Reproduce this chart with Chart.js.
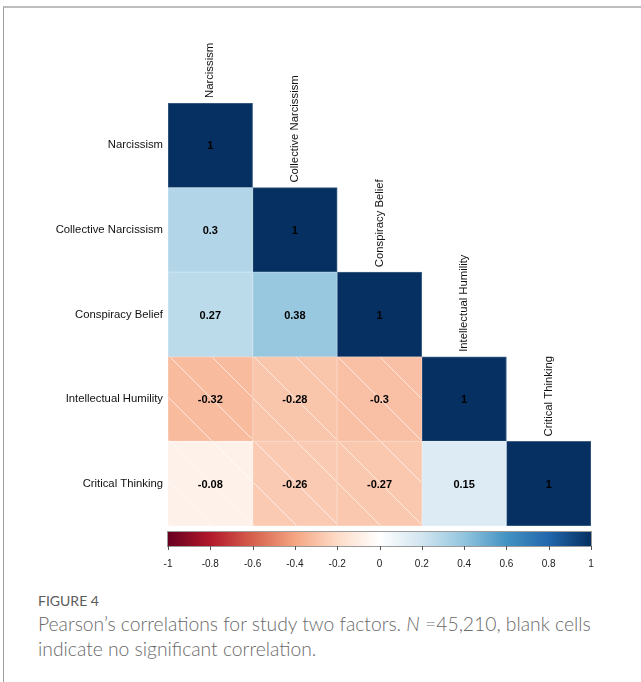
<!DOCTYPE html>
<html>
<head>
<meta charset="utf-8">
<script src="https://cdn.jsdelivr.net/npm/chart.js@4.4.1/dist/chart.umd.min.js"></script>
<style>
  body { margin: 0; background: #fff; width: 641px; height: 682px; overflow: hidden; position: relative; }
  #frame { position: absolute; left: 3px; top: 6px; right: -5px; bottom: -5px; border-top: 2px solid #bdbdbd; border-left: 1px solid #9e9e9e; }
  #wrap { position: absolute; left: 0; top: 0; width: 641px; height: 590px; }
  .fig { position: absolute; left: 38px; top: 592px; font-family: Lato, "Open Sans", sans-serif; font-size: 14px; color: #5c5c5c; }
  .cap { position: absolute; left: 38px; top: 611px; width: 570px; font-family: Lato, "Open Sans", sans-serif; font-size: 19.3px; line-height: 25px; color: #6a6a6a; font-weight: 300; }
</style>
</head>
<body>
<div id="frame"></div>
<div id="wrap"><canvas id="myChart" width="641" height="590"></canvas></div>
<div class="fig">FIGURE 4</div>
<div class="cap">Pearson’s correlations for study two factors. <i>N</i> =45,210, blank cells indicate no significant correlation.</div>
<script>
// variables (rows and columns share the same order)
var factors = ['Narcissism', 'Collective Narcissism', 'Conspiracy Belief', 'Intellectual Humility', 'Critical Thinking'];

// one array per column, values top to bottom (null = upper triangle, not drawn)
var colNarcissism = [1, 0.3, 0.27, -0.32, -0.08];
var colCollective = [null, 1, 0.38, -0.28, -0.26];
var colConspiracy = [null, null, 1, -0.3, -0.27];
var colHumility = [null, null, null, 1, 0.15];
var colCritical = [null, null, null, null, 1];
var columns = [colNarcissism, colCollective, colConspiracy, colHumility, colCritical];

// colour bar tick labels
var cbTicks = [-1, -0.8, -0.6, -0.4, -0.2, 0, 0.2, 0.4, 0.6, 0.8, 1];

// RdBu palette, -1 .. 1
var rdbu = ['#67001F', '#B2182B', '#D6604D', '#F4A582', '#FDDBC7', '#FFFFFF', '#D1E5F0', '#92C5DE', '#4393C3', '#2166AC', '#053061'];

var labelFont = '"Liberation Sans", Arial, sans-serif';

function hexRgb(h) {
  return [parseInt(h.substr(1, 2), 16), parseInt(h.substr(3, 2), 16), parseInt(h.substr(5, 2), 16)];
}
function colorFor(v) {
  var p = (v + 1) / 2 * (rdbu.length - 1);
  var i = Math.min(Math.floor(p), rdbu.length - 2);
  var t = p - i;
  var a = hexRgb(rdbu[i]), b = hexRgb(rdbu[i + 1]);
  return [0, 1, 2].map(function(k) { return Math.round(a[k] + (b[k] - a[k]) * t); });
}
function rgbStr(c) { return 'rgb(' + c[0] + ',' + c[1] + ',' + c[2] + ')'; }
function lighten(c, f) { return rgbStr(c.map(function(x) { return Math.round(x + (255 - x) * f); })); }

// negative cells get white diagonal hatching
function hatch(color) {
  var s = 42;
  var tile = document.createElement('canvas');
  tile.width = s; tile.height = s;
  var g = tile.getContext('2d');
  g.fillStyle = color;
  g.fillRect(0, 0, s, s);
  g.strokeStyle = 'rgba(255,255,255,0.7)';
  g.lineWidth = 0.9;
  g.beginPath();
  g.moveTo(-2, -2);
  g.lineTo(s + 2, s + 2);
  g.stroke();
  var pat = g.createPattern(tile, 'repeat');
  pat.setTransform(new DOMMatrix([1, 0, 0, 1, 23, 0]));
  return pat;
}

var datasets = columns.map(function(col, j) {
  return {
    label: factors[j],
    data: col.map(function(v) { return v === null ? null : [j, j + 1]; }),
    values: col,
    backgroundColor: col.map(function(v) {
      if (v === null) return 'rgba(0,0,0,0)';
      var c = rgbStr(colorFor(v));
      return v < 0 ? hatch(c) : c;
    }),
    borderColor: col.map(function(v) {
      return v === null ? 'rgba(0,0,0,0)' : lighten(colorFor(v), 0.25);
    }),
    borderWidth: 1,
    borderSkipped: false,
    grouped: false,
    barPercentage: 1,
    categoryPercentage: 1
  };
});

var cellTextPlugin = {
  id: 'cellText',
  afterDatasetsDraw: function(chart) {
    var ctx = chart.ctx;
    ctx.save();
    ctx.font = 'bold 11px ' + labelFont;
    ctx.fillStyle = '#000';
    ctx.textAlign = 'center';
    ctx.textBaseline = 'middle';
    chart.data.datasets.forEach(function(ds, j) {
      var meta = chart.getDatasetMeta(j);
      meta.data.forEach(function(el, i) {
        var v = ds.values[i];
        if (v === null) return;
        ctx.fillText(String(v), (el.x + el.base) / 2, el.y + 1);
      });
    });
    ctx.restore();
  }
};

var columnLabelPlugin = {
  id: 'columnLabels',
  afterDraw: function(chart) {
    var ctx = chart.ctx;
    var xs = chart.scales.x, ys = chart.scales.y;
    var band = (ys.bottom - ys.top) / factors.length;
    ctx.save();
    ctx.font = '11.3px ' + labelFont;
    ctx.fillStyle = '#111';
    ctx.textAlign = 'left';
    ctx.textBaseline = 'middle';
    factors.forEach(function(name, j) {
      var x = xs.getPixelForValue(j + 0.5);
      var y = ys.getPixelForTick(j) - band / 2 - 5;
      ctx.save();
      ctx.translate(x, y);
      ctx.rotate(-Math.PI / 2);
      ctx.fillText(name, 0, 0);
      ctx.restore();
    });
    ctx.restore();
  }
};

var colorBarPlugin = {
  id: 'colorBar',
  afterDraw: function(chart) {
    var ctx = chart.ctx;
    var cb = chart.scales.cb;
    var x0 = cb.getPixelForValue(-1), x1 = cb.getPixelForValue(1);
    var top = cb.top + 6, h = 14;
    var grad = ctx.createLinearGradient(x0, 0, x1, 0);
    rdbu.forEach(function(c, i) { grad.addColorStop(i / (rdbu.length - 1), c); });
    ctx.save();
    ctx.fillStyle = grad;
    ctx.fillRect(x0, top, x1 - x0, h);
    ctx.strokeStyle = '#9a9a9a';
    ctx.lineWidth = 1;
    ctx.strokeRect(Math.round(x0) - 0.5, top - 0.5, x1 - x0 + 1, h + 1);
    ctx.strokeStyle = '#555';
    ctx.beginPath();
    cbTicks.forEach(function(t) {
      var x = Math.round(cb.getPixelForValue(t)) + 0.5;
      ctx.moveTo(x, top + h);
      ctx.lineTo(x, top + h + 4);
    });
    ctx.stroke();
    ctx.restore();
  }
};

var myChart = new Chart(document.getElementById('myChart'), {
  type: 'bar',
  data: { labels: factors, datasets: datasets },
  options: {
    indexAxis: 'y',
    responsive: false,
    animation: false,
    layout: { padding: { top: 103, right: 50, left: 0, bottom: 0 } },
    plugins: { legend: { display: false }, tooltip: { enabled: false } },
    scales: {
      x: { type: 'linear', min: 0, max: 5, display: false },
      cb: {
        type: 'linear', position: 'bottom', axis: 'x', min: -1, max: 1,
        grid: { display: false, drawTicks: false },
        border: { display: false },
        afterBuildTicks: function(s) { s.ticks = cbTicks.map(function(v) { return { value: v }; }); },
        afterFit: function(s) { s.height = 64; },
        ticks: {
          padding: 32,
          autoSkip: false,
          maxRotation: 0,
          color: '#222',
          font: { family: labelFont, size: 10 },
          callback: function(v) { return String(v); }
        }
      },
      y: {
        type: 'category',
        grid: { display: false, drawTicks: false },
        border: { display: false },
        afterFit: function(s) { s.width = 168; },
        ticks: {
          padding: 5,
          color: '#111',
          font: { family: labelFont, size: 11.3 }
        }
      }
    }
  },
  plugins: [cellTextPlugin, columnLabelPlugin, colorBarPlugin]
});
</script>
</body>
</html>
